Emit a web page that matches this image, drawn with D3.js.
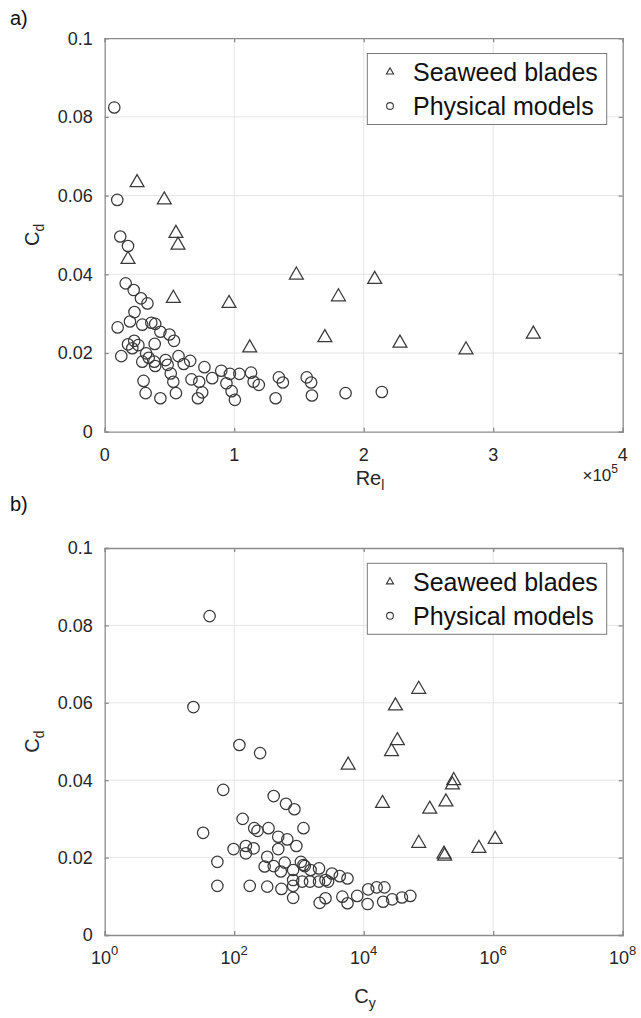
<!DOCTYPE html>
<html><head><meta charset="utf-8">
<script src="https://cdn.jsdelivr.net/npm/d3@7"></script>
<style>body{margin:0;background:#fff}svg{display:block}text{font-family:"Liberation Sans",Arial,Helvetica,sans-serif}</style>
</head><body><svg id="c" width="641" height="1018"></svg>
<script>
// ---- data ----
// Panel a: Re_l (x1e5) vs Cd
const seaweedRe = [0.25,0.46,0.55,0.566,0.18,1.48,2.085,1.805,0.53,0.96,1.70,1.12,2.79,2.28,3.31];
const seaweedCdA = [0.0633,0.0589,0.0504,0.0474,0.0438,0.0398,0.0387,0.0343,0.0339,0.0326,0.0239,0.0213,0.0208,0.0225,0.0248];
const modelRe = [0.074,0.097,0.12,0.18,0.162,0.224,0.28,0.33,0.23,0.195,0.10,0.29,0.36,0.39,0.43,0.50,0.535,0.386,0.228,0.18,0.213,0.26,0.32,0.128,0.34,0.29,0.383,0.39,0.47,0.486,0.57,0.61,0.66,0.51,0.53,0.30,0.316,0.43,0.55,0.67,0.73,0.753,0.72,0.77,0.83,0.90,0.94,0.967,0.98,1.005,1.04,1.13,1.15,1.19,1.345,1.376,1.32,1.56,1.594,1.60,1.86,2.14];
const modelCdA = [0.0824,0.0589,0.0496,0.0472,0.0377,0.036,0.0339,0.0326,0.0304,0.028,0.0265,0.0272,0.0277,0.0274,0.0254,0.0247,0.0231,0.0223,0.0231,0.0222,0.0212,0.022,0.0199,0.0192,0.0188,0.0178,0.0178,0.0167,0.0182,0.017,0.0192,0.0172,0.018,0.0148,0.0127,0.0129,0.0098,0.0085,0.0098,0.0133,0.0127,0.010,0.0085,0.0164,0.0136,0.0155,0.0123,0.0147,0.0103,0.0081,0.0147,0.015,0.0127,0.0119,0.0138,0.0125,0.0085,0.0138,0.0125,0.0092,0.0098,0.0101];
// Panel b: log10(C_y) vs Cd
const seaweedLogCy = [4.85,4.49,4.52,4.43,3.76,5.39,5.37,5.27,5.02,4.29,4.85,5.24,5.25,5.78,6.03];
const seaweedCdB = [0.0635,0.0592,0.0502,0.0474,0.0439,0.0399,0.0388,0.0344,0.0325,0.034,0.0237,0.0209,0.0204,0.0224,0.0247];
const modelLogCy = [1.62,1.37,2.08,2.40,1.83,1.52,1.74,1.74,2.24,2.51,2.73,2.91,1.99,2.13,2.31,2.53,2.61,2.80,2.93,3.07,2.68,2.82,2.96,2.68,2.18,2.18,2.30,2.51,2.47,2.61,2.78,2.72,2.91,3.03,3.09,3.18,3.31,2.91,2.91,3.05,3.17,3.31,3.41,3.51,3.63,3.75,3.32,3.41,3.67,3.75,3.07,3.90,4.07,4.20,4.32,4.06,4.30,4.44,4.59,4.72,3.45,2.36];
const modelCdB = [0.0824,0.0589,0.0491,0.0470,0.0375,0.0264,0.0189,0.0127,0.0127,0.0125,0.0119,0.0096,0.0222,0.030,0.0276,0.0276,0.0359,0.0339,0.0325,0.0276,0.0254,0.0247,0.023,0.0222,0.023,0.0211,0.0224,0.0202,0.0177,0.0178,0.0187,0.0164,0.0168,0.0189,0.0178,0.0168,0.0172,0.0142,0.0127,0.0138,0.0138,0.0138,0.0142,0.0159,0.0152,0.0146,0.0083,0.0095,0.0099,0.0082,0.0181,0.0101,0.0118,0.0123,0.0123,0.008,0.0086,0.0092,0.0097,0.0101,0.0138,0.0269];
const cdTicks = [0,0.02,0.04,0.06,0.08,0.1];
const reTicks = [0,1,2,3,4];
const cyTicks = [1,1e2,1e4,1e6,1e8];
const legendLabels = ["Seaweed blades","Physical models"];

// ---- drawing ----
const svg = d3.select("#c");
const L = 104.7, R = 622.7;
const axisCol = "#8c8c8c", gridCol = "#e5e5e5", markCol = "#3a3a3a", textCol = "#262626";
const tri = d3.symbol().type(d3.symbolTriangle).size(84);
const triSmall = d3.symbol().type(d3.symbolTriangle).size(22);

function panel(top, bottom, x, xTicks, xFmt, seaX, seaY, modX, modY, letter, letterY){
  const y = d3.scaleLinear().domain([0,0.1]).range([bottom, top]);
  const g = svg.append("g");
  // grid
  g.selectAll(".gx").data(xTicks.slice(1,-1)).join("line")
    .attr("x1",d=>x(d)).attr("x2",d=>x(d)).attr("y1",top).attr("y2",bottom)
    .attr("stroke",gridCol).attr("stroke-width",1);
  g.selectAll(".gy").data(cdTicks.slice(1,-1)).join("line")
    .attr("y1",d=>y(d)).attr("y2",d=>y(d)).attr("x1",L).attr("x2",R)
    .attr("stroke",gridCol).attr("stroke-width",1);
  // axes via d3
  const ax = g.append("g").attr("transform",`translate(0,${bottom})`)
    .call(d3.axisBottom(x).tickValues(xTicks).tickSize(-4).tickFormat(()=>""));
  const axT = g.append("g").attr("transform",`translate(0,${top})`)
    .call(d3.axisTop(x).tickValues(xTicks).tickSize(-4).tickFormat(()=>""));
  const ay = g.append("g").attr("transform",`translate(${L},0)`)
    .call(d3.axisLeft(y).tickValues(cdTicks).tickSize(-4).tickFormat(()=>""));
  const ayR = g.append("g").attr("transform",`translate(${R},0)`)
    .call(d3.axisRight(y).tickValues(cdTicks).tickSize(-4).tickFormat(()=>""));
  [ax,axT,ay,ayR].forEach(a=>{a.selectAll("path,line").attr("stroke",axisCol).attr("stroke-width",1.3);});
  // tick labels
  g.selectAll(".yl").data(cdTicks).join("text")
    .attr("x",L-12).attr("y",d=>y(d)).attr("dy","0.35em").attr("text-anchor","end")
    .attr("font-size",18).attr("fill",textCol).text(d=>d===0?"0":d3.format("~g")(d));
  const xl = g.selectAll(".xl").data(xTicks).join("text")
    .attr("x",d=>x(d)).attr("y",bottom+29).attr("text-anchor","middle")
    .attr("font-size",18).attr("fill",textCol);
  xFmt(xl);
  // markers
  g.selectAll(".m").data(modX.map((v,i)=>[v,modY[i]])).join("circle")
    .attr("cx",d=>x(d[0])).attr("cy",d=>y(d[1])).attr("r",5.7)
    .attr("fill","none").attr("stroke",markCol).attr("stroke-width",1.25);
  g.selectAll(".s").data(seaX.map((v,i)=>[v,seaY[i]])).join("path")
    .attr("d",tri).attr("transform",d=>`translate(${x(d[0])},${y(d[1])})`)
    .attr("fill","none").attr("stroke",markCol).attr("stroke-width",1.25);
  // legend
  const lx0 = 367.3, ly0 = top+15.3, lw = 239.4, lh = 71;
  g.append("rect").attr("x",lx0).attr("y",ly0).attr("width",lw).attr("height",lh)
    .attr("fill","#fff").attr("stroke","#7a7a7a").attr("stroke-width",1);
  g.append("path").attr("d",triSmall).attr("transform",`translate(390,${ly0+18.5})`)
    .attr("fill","none").attr("stroke",markCol).attr("stroke-width",1.1);
  g.append("circle").attr("cx",390).attr("cy",ly0+52.5).attr("r",3.4)
    .attr("fill","none").attr("stroke",markCol).attr("stroke-width",1.1);
  legendLabels.forEach((t,i)=>{
    g.append("text").attr("x",413).attr("y",ly0+18.5+i*34).attr("dy","0.36em")
      .attr("font-size",25).attr("fill","#111").text(t);
  });
  // C_d label
  const cy = (top+bottom)/2;
  const yt = g.append("text").attr("transform",`translate(39,${cy}) rotate(-90)`)
    .attr("text-anchor","middle").attr("font-size",20).attr("fill",textCol);
  yt.append("tspan").text("C");
  yt.append("tspan").attr("font-size",14).attr("dy",5).text("d");
  // letter
  svg.append("text").attr("x",10).attr("y",letterY).attr("font-size",20).attr("fill","#111").text(letter);
  return g;
}

const xA = d3.scaleLinear().domain([0,4]).range([L,R]);
const gA = panel(38.2, 431.7, xA, reTicks, sel=>sel.text(d=>d), seaweedRe, seaweedCdA, modelRe, modelCdA, "a)", 25);
// Re_l label and exponent
const rl = gA.append("text").attr("x",370).attr("y",485).attr("text-anchor","middle").attr("font-size",20).attr("fill",textCol);
rl.append("tspan").text("Re");
rl.append("tspan").attr("font-size",14).attr("dy",5).text("l");
const ex = gA.append("text").attr("x",618).attr("y",481).attr("text-anchor","end").attr("font-size",17).attr("fill",textCol);
ex.append("tspan").text("\u00d710");
ex.append("tspan").attr("font-size",12).attr("dy",-8).text("5");

const xB = d3.scaleLog().domain([1,1e8]).range([L,R]);
const gB = panel(548, 935, xB, cyTicks, sel=>{
  sel.each(function(d){
    const t = d3.select(this);
    t.append("tspan").text("10");
    t.append("tspan").attr("font-size",13).attr("dy",-9).text(Math.round(Math.log10(d)));
  });
}, seaweedLogCy.map(v=>Math.pow(10,v)), seaweedCdB, modelLogCy.map(v=>Math.pow(10,v)), modelCdB, "b)", 511);
const cyl = gB.append("text").attr("x",365).attr("y",1003).attr("text-anchor","middle").attr("font-size",20).attr("fill",textCol);
cyl.append("tspan").text("C");
cyl.append("tspan").attr("font-size",14).attr("dy",5).text("y");
</script></body></html>
